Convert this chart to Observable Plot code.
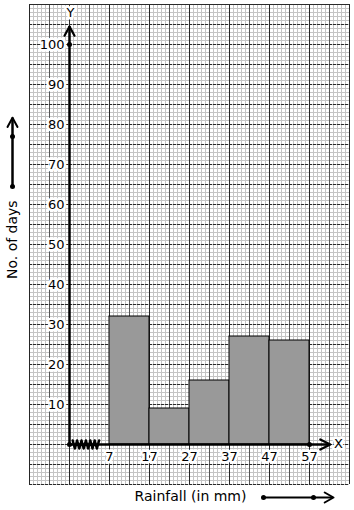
<!DOCTYPE html>
<html><head><meta charset="utf-8">
<script src="https://cdn.jsdelivr.net/npm/d3@7"></script>
<script src="https://cdn.jsdelivr.net/npm/@observablehq/plot@0.6"></script>
<style>body{margin:0;background:#fff}</style>
</head><body><div id="chart"></div>
<script>
// Data
const binStarts = [7, 17, 27, 37, 47];
const binEnds = [17, 27, 37, 47, 57];
const days = [32, 9, 16, 27, 26];
const xTickLabels = [7, 17, 27, 37, 47, 57];
const yTickLabels = [10, 20, 30, 40, 50, 60, 70, 80, 90, 100];
const xAxisTitle = "Rainfall (in mm)";
const yAxisTitle = "No. of days";

const bars = binStarts.map((s, i) => ({x1: s, x2: binEnds[i], y: days[i]}));

// graph-paper extents (data units)
const gx0 = -13, gx1 = 67, gy0 = -10, gy1 = 110;
const minorX = d3.range(gx0, gx1 + 0.01, 1);
const majorXa = d3.range(gx0, gx1 + 0.01, 10);
const majorXb = d3.range(gx0 + 5, gx1 + 0.01, 10);
const minorY = d3.range(gy0, gy1 + 0.01, 1);
const majorY = d3.range(gy0, gy1 + 0.01, 5);
const ox = -3; // position of the Y axis (break at origin)

const zig = d3.range(0, 13).map(i => [-2.2 + i * 0.55, i % 2 ? -1 : 1]);

const txt = {fontSize: 13, fill: "black", stroke: "white", strokeWidth: 5};

const chart = Plot.plot({
  width: 354, height: 510, margin: 0,
  x: {domain: [7 - 109 / 4, 7 + 245 / 4], axis: null},
  y: {domain: [-16.5, 111], axis: null},
  style: {fontFamily: "DejaVu Sans", fontSize: "13px", background: "white"},
  marks: [
    Plot.ruleX(minorX, {y1: gy0, y2: gy1, stroke: "#c4c4c4", strokeWidth: 1}),
    Plot.ruleY(minorY, {x1: gx0, x2: gx1, stroke: "#c4c4c4", strokeWidth: 1}),
    Plot.ruleX(majorXb, {y1: gy0, y2: gy1, stroke: "#555", strokeWidth: 1}),
    Plot.ruleX(majorXa, {y1: gy0, y2: gy1, stroke: "#262626", strokeWidth: 1}),
    Plot.ruleY(majorY, {x1: gx0, x2: gx1, stroke: "#2a2a2a", strokeWidth: 1, strokeDasharray: "3,1"}),
    Plot.ruleY([gy1], {x1: gx0, x2: gx1, stroke: "#2a2a2a"}),
    Plot.rectY(bars, {x1: "x1", x2: "x2", y1: 0, y2: "y", fill: "#999999", stroke: "black", strokeWidth: 1}),
    // axes
    Plot.ruleX([ox], {y1: 0, y2: 104.5, stroke: "black", strokeWidth: 2.5}),
    Plot.line([[ox - 1.25, 102.2], [ox, 104.5], [ox + 1.25, 102.2]], {stroke: "black", strokeWidth: 2.2}),
    Plot.ruleY([0], {x1: ox, x2: 62.2, stroke: "black", strokeWidth: 2.5}),
    Plot.line([[59.7, 1.25], [62.2, 0], [59.7, -1.25]], {stroke: "black", strokeWidth: 2.2}),
    Plot.line(zig, {stroke: "black", strokeWidth: 2.5}),
    Plot.dot([[ox, 100], [ox, 0], [57, 0]], {r: 2.5, fill: "black"}),
    // tick labels
    Plot.text(yTickLabels, {x: ox, y: d => d, text: d => String(d), textAnchor: "end", dx: -5, ...txt}),
    Plot.text(xTickLabels, {x: d => d, y: 0, text: d => String(d), dy: 12.5, ...txt}),
    Plot.text(["Y"], {x: ox, y: 107.9, text: d => d, dx: 1, ...txt}),
    Plot.text(["X"], {x: 64.25, y: 0.1, text: d => d, ...txt}),
    // titles with arrows
    Plot.text([yAxisTitle], {x: -17.3, y: 51.2, text: d => d, rotate: -90, fontSize: 14, fill: "black"}),
    Plot.ruleX([-17.25], {y1: 64.5, y2: 81.6, stroke: "black", strokeWidth: 2.5}),
    Plot.line([[-18.5, 79.4], [-17.25, 81.7], [-16, 79.4]], {stroke: "black", strokeWidth: 2}),
    Plot.dot([[-17.25, 64.5], [-17.25, 77]], {r: 2.5, fill: "black"}),
    Plot.text([xAxisTitle], {x: 27.25, y: -13, text: d => d, fontSize: 14, fill: "black"}),
    Plot.ruleY([-13.25], {x1: 45.5, x2: 63, stroke: "black", strokeWidth: 2}),
    Plot.line([[60.8, -12], [63, -13.25], [60.8, -14.5]], {stroke: "black", strokeWidth: 2}),
    Plot.dot([[45.5, -13.25], [58, -13.25]], {r: 2.5, fill: "black"})
  ]
});
document.getElementById("chart").appendChild(chart);
</script>
</body></html>
